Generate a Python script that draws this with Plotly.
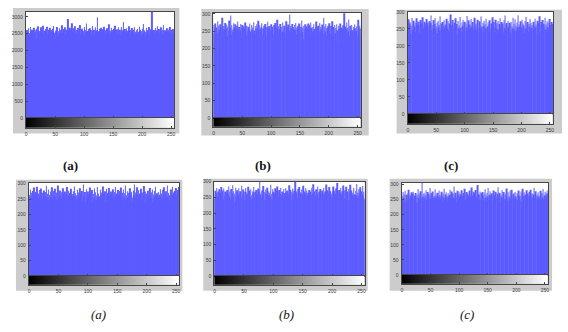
import plotly.graph_objects as go

W, H = 568, 332

# ---------------- data (histogram counts per gray level 0..255) ----------------
hist_top_a = [
    2480, 2610, 2550, 2390, 2660, 2520, 2450, 2700, 2580, 2310, 2620, 2490, 2570, 2680, 2430, 2540, 2600, 2370, 2650, 2510,
    2720, 2460, 2580, 2530, 2400, 2690, 2550, 2470, 2610, 2740, 2500, 2380, 2590, 2640, 2450, 2560, 2710, 2490, 2530, 2620,
    2420, 2680, 2570, 2510, 2600, 2450, 2650, 2730, 2540, 2480, 2590, 2360, 2620, 2700, 2510, 2570, 2440, 2660, 2530, 2610,
    2480, 2590, 2750, 2520, 2400, 2640, 2560, 2690, 2470, 2580, 2620, 2510, 2940, 2450, 2570, 2680, 2530, 2600, 2420, 2810,
    2550, 2490, 2660, 2580, 2720, 2460, 2530, 2610, 2390, 2670, 2540, 2500, 2630, 2760, 2480, 2570, 2650, 2430, 2590, 2520,
    2700, 2460, 2610, 2550, 2800, 2490, 2580, 2640, 2510, 2350, 2660, 2540, 2600, 2470, 2730, 2580, 2520, 2620, 2440, 2690,
    2560, 2500, 2600, 2990, 2480, 2570, 2650, 2530, 2410, 2680, 2590, 2520, 2640, 2470, 2710, 2550, 2600, 2490, 2580, 2660,
    2430, 2620, 2540, 2780, 2500, 2590, 2460, 2680, 2550, 2610, 2380, 2650, 2520, 2740, 2480, 2570, 2630, 2510, 2420, 2690,
    2580, 2530, 2620, 2460, 2700, 2550, 2490, 2600, 2850, 2510, 2640, 2570, 2430, 2660, 2520, 2590, 2480, 2720, 2550, 2610,
    2500, 2400, 2670, 2580, 2530, 2620, 2470, 2690, 2560, 2510, 2600, 2340, 2640, 2550, 2490, 2710, 2580, 2620, 2460, 2570,
    2650, 2520, 2790, 2480, 2600, 2560, 2430, 2680, 2540, 2610, 2500, 2590, 2700, 2470, 2560, 2630, 2520, 3150, 2580, 2490,
    2610, 2550, 2440, 2670, 2520, 2600, 2720, 2490, 2580, 2640, 2530, 2410, 2690, 2570, 2500, 2620, 2460, 2750, 2540, 2600,
    2510, 2580, 2470, 2660, 2550, 2620, 2490, 2580, 2700, 2530, 2450, 2610, 2570, 2640, 2520, 2480,
]
hist_top_b = [
    268, 245, 259, 272, 238, 261, 250, 279, 243, 266, 254, 231, 270, 247, 262, 289, 251, 240, 265, 256,
    274, 242, 258, 269, 236, 263, 252, 281, 246, 260, 295, 239, 267, 255, 248, 273, 261, 234, 270, 257,
    244, 266, 278, 250, 237, 262, 253, 271, 241, 259, 268, 229, 264, 256, 247, 275, 260, 238, 266, 251,
    263, 240, 257, 272, 249, 235, 268, 254, 261, 243, 276, 252, 238, 265, 257, 270, 246, 259, 280, 232,
    267, 255, 244, 261, 273, 238, 258, 250, 266, 242, 271, 256, 235, 262, 277, 248, 259, 265, 229, 254,
    270, 246, 263, 252, 240, 268, 257, 274, 239, 260, 251, 283, 245, 264, 256, 238, 271, 253, 262, 247,
    275, 250, 236, 266, 258, 244, 279, 255, 263, 241, 269, 252, 298, 247, 265, 259, 234, 271, 256, 262,
    243, 268, 254, 274, 240, 261, 250, 266, 237, 272, 257, 246, 263, 281, 248, 259, 227, 266, 255, 270,
    251, 264, 239, 258, 272, 245, 267, 253, 236, 275, 260, 249, 262, 244, 270, 256, 241, 263, 278, 252,
    259, 233, 266, 251, 274, 246, 262, 255, 240, 269, 257, 288, 243, 264, 250, 271, 238, 260, 254, 266,
    247, 273, 256, 242, 265, 251, 279, 237, 262, 255, 268, 244, 259, 212, 270, 253, 246, 266, 258, 240,
    272, 249, 261, 256, 238, 267, 252, 302, 245, 263, 257, 275, 241, 260, 250, 284, 236, 266, 255, 244,
    268, 253, 239, 262, 257, 270, 246, 259, 251, 264, 237, 283, 255, 242, 266, 258,
]
hist_top_c = [
    253, 278, 241, 265, 270, 236, 259, 282, 248, 262, 274, 244, 257, 268, 239, 281, 255, 263, 246, 271,
    260, 238, 276, 252, 266, 243, 284, 257, 249, 271, 236, 263, 255, 279, 242, 268, 258, 246, 273, 251,
    267, 289, 245, 261, 253, 276, 240, 264, 282, 250, 257, 269, 238, 274, 256, 262, 245, 287, 252, 266,
    241, 270, 258, 247, 275, 254, 263, 239, 280, 257, 249, 272, 244, 266, 255, 292, 248, 261, 237, 276,
    259, 250, 268, 243, 281, 256, 264, 235, 273, 252, 260, 247, 285, 253, 241, 269, 258, 276, 245, 262,
    271, 239, 266, 254, 288, 248, 260, 275, 242, 263, 251, 279, 257, 236, 270, 255, 246, 283, 262, 250,
    265, 244, 258, 277, 253, 240, 272, 261, 249, 286, 256, 243, 268, 258, 274, 238, 264, 252, 280, 247,
    257, 269, 242, 263, 275, 251, 238, 266, 259, 284, 246, 270, 255, 241, 277, 262, 250, 267, 233, 273,
    248, 264, 281, 254, 243, 270, 258, 266, 239, 276, 253, 289, 245, 261, 267, 250, 274, 256, 242, 268,
    262, 237, 271, 257, 249, 283, 252, 265, 244, 278, 259, 247, 269, 255, 290, 241, 263, 256, 272, 246,
    254, 277, 243, 266, 260, 238, 273, 251, 285, 248, 262, 270, 240, 264, 257, 279, 245, 268, 253, 261,
    242, 271, 259, 246, 280, 255, 263, 236, 274, 250, 267, 258, 287, 244, 261, 270, 249, 276, 240, 265,
    257, 283, 248, 263, 239, 272, 255, 268, 246, 279, 252, 261, 237, 270, 258, 264,
]
hist_bot_a = [
    263, 248, 281, 255, 270, 242, 276, 259, 287, 251, 266, 273, 245, 290, 258, 268, 252, 279, 262, 246,
    284, 257, 270, 249, 265, 278, 241, 273, 260, 292, 254, 267, 247, 281, 263, 256, 274, 243, 269, 288,
    251, 276, 262, 245, 283, 258, 271, 249, 266, 294, 255, 240, 278, 261, 252, 272, 246, 285, 259, 268,
    243, 274, 265, 251, 289, 257, 262, 277, 238, 270, 255, 283, 248, 266, 260, 275, 244, 291, 257, 269,
    262, 249, 280, 256, 271, 243, 285, 259, 266, 252, 276, 245, 297, 258, 264, 273, 240, 282, 255, 268,
    274, 251, 263, 287, 246, 270, 258, 279, 242, 266, 255, 284, 249, 272, 261, 247, 289, 256, 268, 252,
    259, 280, 244, 271, 263, 291, 250, 267, 256, 275, 241, 283, 262, 253, 270, 246, 286, 258, 265, 274,
    248, 266, 282, 255, 239, 273, 261, 290, 251, 268, 257, 279, 243, 265, 276, 252, 287, 260, 270, 245,
    281, 256, 269, 247, 294, 262, 253, 275, 244, 270, 258, 285, 249, 266, 273, 255, 240, 278, 263, 297,
    254, 271, 260, 288, 246, 265, 279, 252, 268, 243, 283, 257, 271, 248, 262, 292, 255, 274, 241, 267,
    266, 250, 277, 259, 245, 286, 263, 254, 272, 240, 281, 265, 251, 276, 258, 290, 247, 269, 262, 253,
    273, 244, 264, 282, 255, 268, 249, 279, 260, 288, 252, 266, 243, 275, 257, 294, 251, 270, 262, 246,
    268, 281, 255, 262, 290, 249, 271, 258, 276, 245, 286, 264, 252, 279, 260, 289,
]
hist_bot_b = [
    245, 271, 258, 263, 280, 252, 268, 247, 276, 259, 266, 283, 250, 272, 261, 244, 278, 256, 269, 253,
    266, 248, 274, 260, 285, 252, 269, 243, 277, 258, 264, 289, 251, 270, 262, 238, 281, 255, 267, 273,
    257, 279, 246, 265, 270, 254, 287, 249, 262, 275, 258, 241, 268, 280, 253, 266, 259, 284, 247, 272,
    263, 251, 276, 257, 244, 270, 265, 283, 249, 268, 256, 274, 240, 262, 278, 252, 267, 300, 255, 261,
    248, 272, 259, 286, 253, 267, 241, 275, 262, 257, 281, 246, 270, 258, 265, 252, 290, 261, 244, 276,
    268, 255, 263, 279, 242, 271, 257, 285, 250, 266, 274, 247, 261, 281, 254, 269, 259, 243, 277, 264,
    252, 280, 266, 245, 272, 258, 263, 289, 249, 274, 256, 268, 241, 278, 262, 253, 271, 300, 257, 265,
    270, 248, 277, 259, 283, 252, 266, 244, 275, 261, 256, 287, 250, 269, 263, 279, 246, 272, 258, 265,
    261, 274, 253, 269, 247, 281, 258, 265, 292, 251, 270, 256, 244, 276, 263, 259, 285, 249, 268, 255,
    277, 250, 264, 272, 256, 243, 280, 261, 269, 254, 291, 248, 273, 258, 266, 283, 245, 270, 257, 262,
    249, 268, 285, 255, 271, 262, 246, 279, 258, 296, 252, 267, 274, 243, 264, 281, 256, 270, 251, 288,
    266, 245, 273, 259, 284, 250, 269, 262, 277, 241, 268, 290, 254, 272, 258, 265, 248, 281, 260, 253,
    271, 258, 293, 249, 266, 276, 255, 263, 282, 247, 270, 259, 286, 252, 268, 244,
]
hist_bot_c = [
    262, 248, 275, 256, 268, 244, 279, 253, 265, 270, 241, 258, 283, 250, 267, 261, 246, 274, 255, 269,
    276, 252, 263, 249, 272, 258, 240, 266, 285, 257, 270, 247, 262, 278, 253, 305, 259, 268, 245, 273,
    257, 266, 281, 250, 263, 275, 246, 269, 258, 288, 252, 264, 271, 243, 277, 256, 262, 249, 284, 260,
    268, 254, 273, 261, 247, 280, 259, 265, 251, 276, 263, 242, 270, 257, 286, 249, 267, 274, 255, 262,
    245, 271, 259, 266, 283, 252, 264, 277, 248, 270, 256, 293, 250, 262, 273, 258, 244, 279, 265, 253,
    274, 260, 249, 268, 281, 255, 263, 240, 272, 259, 286, 251, 266, 275, 247, 269, 258, 262, 280, 254,
    259, 267, 290, 248, 263, 276, 254, 270, 245, 282, 261, 256, 298, 252, 268, 264, 249, 277, 257, 271,
    251, 275, 262, 247, 269, 284, 256, 265, 243, 273, 259, 288, 250, 266, 278, 254, 262, 271, 246, 268,
    280, 257, 265, 252, 276, 261, 248, 270, 291, 255, 264, 273, 244, 267, 259, 282, 251, 263, 275, 249,
    266, 253, 271, 287, 258, 246, 274, 262, 256, 279, 245, 268, 283, 252, 264, 270, 257, 249, 276, 261,
    255, 272, 248, 266, 280, 259, 263, 251, 277, 243, 269, 286, 254, 262, 274, 250, 267, 258, 281, 246,
    270, 261, 254, 276, 248, 283, 265, 257, 271, 244, 268, 289, 253, 262, 278, 250, 266, 259, 274, 258,
    263, 252, 279, 268, 246, 272, 257, 285, 250, 264, 276, 254, 269, 261, 280, 271,
]

gray_levels = list(range(256))
x_ticks = [0, 50, 100, 150, 200, 250]
y_ticks_large = [0, 500, 1000, 1500, 2000, 2500, 3000]
y_ticks_small = [0, 50, 100, 150, 200, 250, 300]
captions_top = ["(a)", "(b)", "(c)"]
captions_bottom = ["(a)", "(b)", "(c)"]

# ---------------- layout geometry (pixels) ----------------
panels = [
    dict(data=hist_top_a, yt=y_ticks_large, ymax=3150, plot=(25, 174, 9, 117), cb=127, frame=(12, 179, 5, 133)),
    dict(data=hist_top_b, yt=y_ticks_small, ymax=303, plot=(213, 361, 10, 117), cb=126, frame=(201, 369, 6, 135)),
    dict(data=hist_top_c, yt=y_ticks_small, ymax=300, plot=(408, 554, 9, 113), cb=123, frame=(397, 563, 7, 133)),
    dict(data=hist_bot_a, yt=y_ticks_small, ymax=303, plot=(28, 179, 183, 278), cb=287, frame=(15, 182, 180, 293)),
    dict(data=hist_bot_b, yt=y_ticks_small, ymax=300, plot=(214, 365, 182, 278), cb=287, frame=(203, 368, 179, 293)),
    dict(data=hist_bot_c, yt=y_ticks_small, ymax=306, plot=(402, 549, 183, 277), cb=286, frame=(390, 553, 179, 293)),
]
caption_pos_top = [(70, 165), (263, 165), (452, 165)]
caption_pos_bot = [(98, 317), (287, 317), (468, 317)]


def fx(px):
    return px / W


def fy(py):
    return 1 - py / H


fig = go.Figure()
shapes = []
layout_axes = {}
AX = "rgb(70,70,70)"
tickfont = dict(family="Liberation Sans, Arial", size=5, color="rgb(60,60,60)")

for i, p in enumerate(panels):
    hk = 2 * i + 1
    ck = 2 * i + 2
    L, R, T, Z = p["plot"]
    fl, fr, ft, fb = p["frame"]
    shapes.append(dict(type="rect", xref="paper", yref="paper", x0=fx(fl), x1=fx(fr), y0=fy(fb), y1=fy(ft),
                       fillcolor="rgb(204,204,204)", line=dict(width=0), layer="below"))
    shapes.append(dict(type="rect", xref="paper", yref="paper", x0=fx(L), x1=fx(R), y0=fy(Z), y1=fy(T),
                       fillcolor="white", line=dict(width=0), layer="below"))

    fig.add_trace(go.Bar(x=gray_levels[:len(p["data"])], y=p["data"],
                         marker=dict(color="rgb(92,92,255)", line=dict(width=0)),
                         xaxis=f"x{hk}", yaxis=f"y{hk}", showlegend=False, hoverinfo="skip"))
    fig.add_trace(go.Heatmap(z=[gray_levels], x=gray_levels, y=[0],
                             colorscale=[[0, "black"], [1, "white"]], showscale=False,
                             xaxis=f"x{ck}", yaxis=f"y{ck}", hoverinfo="skip"))

    common = dict(showline=True, mirror=True, linecolor=AX, linewidth=1, showgrid=False, zeroline=False,
                  ticks="inside", ticklen=2, tickcolor=AX, tickfont=tickfont, fixedrange=True)
    layout_axes[f"xaxis{hk}"] = dict(common, domain=[fx(L), fx(R)], anchor=f"y{hk}", range=[-0.5, 255.5],
                                     tickvals=x_ticks, showticklabels=False)
    layout_axes[f"yaxis{hk}"] = dict(common, domain=[fy(Z), fy(T)], anchor=f"x{hk}", range=[0, p["ymax"]],
                                     tickvals=p["yt"], ticklabelstandoff=1)
    layout_axes[f"xaxis{ck}"] = dict(common, domain=[fx(L), fx(R)], anchor=f"y{ck}", range=[-0.5, 255.5],
                                     tickvals=x_ticks, ticklabelstandoff=1)
    layout_axes[f"yaxis{ck}"] = dict(common, domain=[fy(p["cb"]), fy(Z)], anchor=f"x{ck}", range=[-0.5, 0.5],
                                     ticks="", showticklabels=False)

annotations = []
for cap, (x, y) in zip(captions_top, caption_pos_top):
    annotations.append(dict(text=f"<b>{cap}</b>", x=fx(x), y=fy(y), xref="paper", yref="paper",
                            xanchor="center", yanchor="middle", showarrow=False,
                            font=dict(family="Liberation Serif", size=13, color="rgb(20,20,20)")))
for cap, (x, y) in zip(captions_bottom, caption_pos_bot):
    annotations.append(dict(text=f"<i>{cap}</i>", x=fx(x), y=fy(y), xref="paper", yref="paper",
                            xanchor="center", yanchor="middle", showarrow=False,
                            font=dict(family="Liberation Serif", size=13, color="rgb(20,20,20)")))

fig.update_layout(width=W, height=H, margin=dict(l=0, r=0, t=0, b=0), paper_bgcolor="white",
                  plot_bgcolor="rgba(0,0,0,0)", bargap=0.12, shapes=shapes, annotations=annotations,
                  showlegend=False, **layout_axes)

fig.write_html("out.html", config={"displayModeBar": False})
